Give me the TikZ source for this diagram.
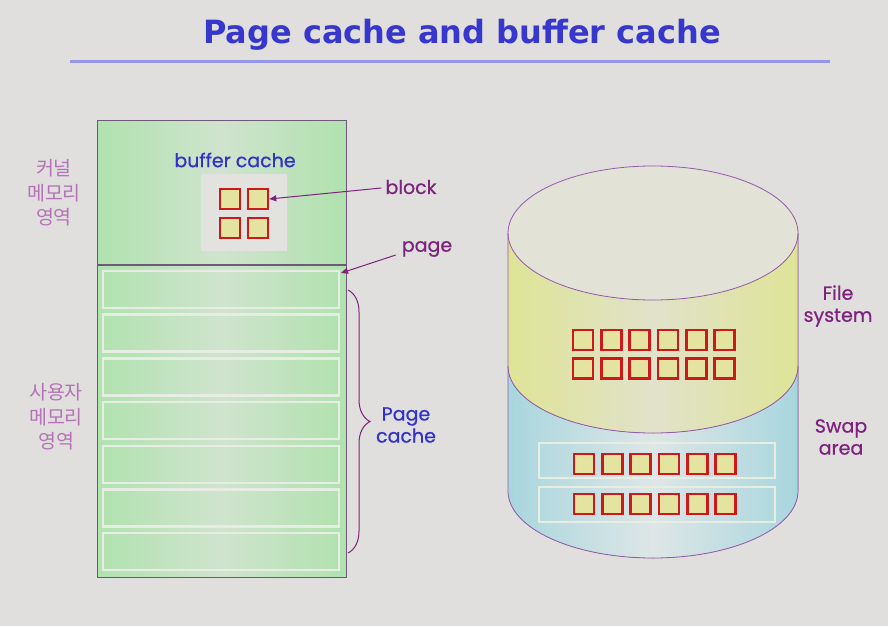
\documentclass[tikz,border=0pt]{standalone}
\usepackage{fontspec}
\setmainfont{Poppins}[FakeBold=0.7]
\newfontfamily\titlefont{DejaVu Sans}
\newfontfamily\krfont{Noto Sans CJK KR}
\usetikzlibrary{arrows.meta,decorations.pathreplacing,shapes.geometric}
\definecolor{bg}{RGB}{224,223,221}
\definecolor{greenE}{RGB}{176,226,174}
\definecolor{greenM}{RGB}{208,227,206}
\definecolor{rowline}{RGB}{230,238,228}
\definecolor{boxline}{RGB}{110,90,120}
\definecolor{grayblk}{RGB}{226,226,222}
\definecolor{blkfill}{RGB}{228,228,160}
\definecolor{blkred}{RGB}{205,25,25}
\definecolor{purp}{RGB}{125,35,125}
\definecolor{korean}{RGB}{180,115,182}
\definecolor{blueL}{RGB}{50,50,200}
\definecolor{titleblue}{RGB}{55,55,205}
\definecolor{uline}{RGB}{150,150,230}
\definecolor{cylline}{RGB}{150,90,170}
\definecolor{yelE}{RGB}{222,228,150}
\definecolor{yelM}{RGB}{225,226,202}
\definecolor{bluE}{RGB}{168,214,222}
\definecolor{bluM}{RGB}{222,230,230}
\definecolor{topfill}{RGB}{226,226,214}
\tikzset{
  lbl/.style={font=\fontsize{19}{23}\selectfont, inner sep=0pt},
  purplbl/.style={lbl, text=purp},
  bluelbl/.style={lbl, text=blueL},
  krlbl/.style={font=\krfont\fontsize{19.5}{24.5}\selectfont, text=korean, align=center, inner sep=0pt},
  blk/.style={draw=blkred, fill=blkfill, line width=2.6pt, minimum width=20pt, minimum height=20pt, inner sep=0pt},
  pagerow/.style={draw=rowline, line width=2.5pt, minimum width=236pt, minimum height=37pt, inner sep=0pt},
  swaprow/.style={draw=rowline, line width=2pt, minimum width=236pt, minimum height=35pt, inner sep=0pt},
  pointer/.style={draw=purp, line width=1pt, -{Triangle[length=7pt,width=6pt]}},
}
\begin{document}
\begin{tikzpicture}[x=1pt,y=1pt]
\useasboundingbox (0,0) rectangle (888,-626);
\fill[bg] (0,0) rectangle (888,-626);
% title
\node[font=\titlefont\bfseries\fontsize{32}{36}\selectfont, text=titleblue, inner sep=0pt] (title) at (462,-35) {Page cache and buffer cache};
\coordinate (ulA) at (70,-62);
\coordinate (ulB) at (830,-62);
\draw[uline, line width=3pt] (ulA) -- (ulB);
% memory box
\node[draw=boxline, line width=1pt, left color=greenE, right color=greenE, middle color=greenM, minimum width=249pt, minimum height=457pt, inner sep=0pt] (mem) at (221.5,-348.5) {};
\coordinate (divL) at (97,-265);
\coordinate (divR) at (346,-265);
\draw[boxline, line width=1.2pt] (divL) -- (divR);
% buffer cache
\node[bluelbl] (bc) at (235,-160) {buffer cache};
\node[fill=grayblk, minimum width=86pt, minimum height=77pt, inner sep=0pt] (bcarea) at (244,-212.5) {};
\node[blk] (b11) at (230,-199) {};
\node[blk] (b12) at (258,-199) {};
\node[blk] (b21) at (230,-228) {};
\node[blk] (b22) at (258,-228) {};
% page rows
\foreach \i in {0,...,6} {
  \node[pagerow] (row\i) at (221,{-289.5-43.7*\i}) {};
}
\coordinate (pagetip) at (341,-273);
% labels left
\node[krlbl] (kernel) at (54,-193) {커널\\메모리\\영역};
\node[krlbl] (user) at (56,-417) {사용자\\메모리\\영역};
\node[purplbl] (block) at (411,-187) {block};
\node[purplbl] (page) at (427,-249) {page};
\draw[pointer] (block.west) ++(-4,-1) -- (b12.east);
\draw[pointer] (page.south west) ++(-6,2) -- (pagetip);
% brace
\coordinate (brT) at (348,-290);
\coordinate (brB) at (348,-553);
\draw[purp, line width=1pt, decorate, decoration={brace, amplitude=22pt, aspect=0.5}] (brT) -- (brB);
\node[bluelbl, align=center] (pc) at (406,-425) {Page\\[-1pt]cache};
% cylinder
\fill[left color=bluE, right color=bluE, middle color=bluM]
  (508,-366) -- (508,-491) arc[start angle=180, end angle=360, x radius=145pt, y radius=67pt]
  -- (798,-366) arc[start angle=360, end angle=180, x radius=145pt, y radius=67pt] -- cycle;
\fill[left color=yelE, right color=yelE, middle color=yelM]
  (508,-233) -- (508,-366) arc[start angle=180, end angle=360, x radius=145pt, y radius=67pt]
  -- (798,-233) arc[start angle=360, end angle=180, x radius=145pt, y radius=67pt] -- cycle;
\node[draw=cylline, fill=topfill, ellipse, minimum width=290pt, minimum height=134pt, inner sep=0pt, line width=0.8pt] (top) at (653,-233) {};
\draw[cylline, line width=0.8pt] (508,-233) -- (508,-491) arc[start angle=180, end angle=360, x radius=145pt, y radius=67pt] -- (798,-233);
\draw[cylline, line width=0.8pt] (508,-366) arc[start angle=180, end angle=360, x radius=145pt, y radius=67pt];
% fs blocks
\foreach \r/\y in {1/-340, 2/-368.5} {
  \foreach \c in {0,...,5} {
    \node[blk] (fs\r\c) at ({583+28.3*\c},\y) {};
  }
}
% swap rows
\node[swaprow] (sw1) at (656.5,-460) {};
\node[swaprow] (sw2) at (656.5,-504.5) {};
\foreach \r/\y in {1/-464, 2/-504} {
  \foreach \c in {0,...,5} {
    \node[blk] (sb\r\c) at ({584+28.3*\c},\y) {};
  }
}
\node[purplbl, align=center] (fs) at (838,-306) {File\\[-1pt]system};
\node[purplbl, align=center] (swap) at (841,-437) {Swap\\[-1pt]area};
\end{tikzpicture}
\end{document}
